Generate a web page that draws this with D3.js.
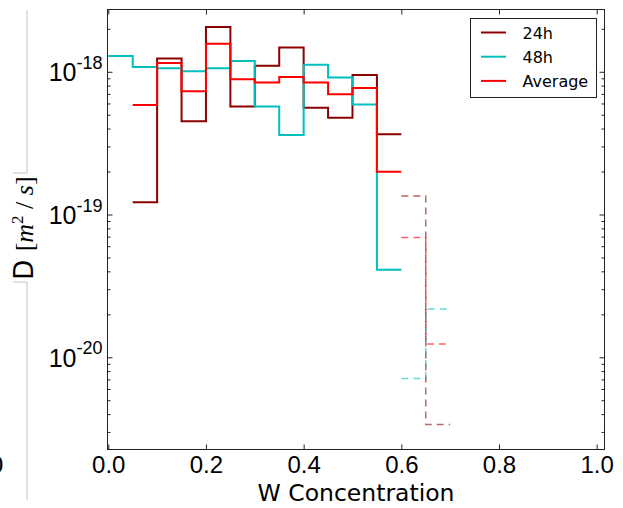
<!DOCTYPE html>
<html>
<head>
<meta charset="utf-8">
<script src="https://cdn.jsdelivr.net/npm/d3@7"></script>
<style>
  body { margin: 0; background: #fff; }
  svg { display: block; font-family: "DejaVu Sans", sans-serif; }
  .axis path.domain { display: none; }
  .axis line { stroke: #222; stroke-width: 1; }
</style>
</head>
<body>
<div id="chart"></div>
<script>
// bin left edges (bin width 0.05)
var binStart = [0.00, 0.05, 0.10, 0.15, 0.20, 0.25, 0.30, 0.35, 0.40, 0.45, 0.50, 0.55];
var binWidth = 0.05;

// solid steps, D in m^2/s (null = no bin)
var d24h = [null, 1.22e-19, 1.24e-18, 4.5e-19, 2.06e-18, 5.7e-19, 1.10e-18, 1.48e-18, 5.6e-19, 4.77e-19, 9.5e-19, 3.65e-19];
var d48h = [1.29e-18, 1.08e-18, 1.06e-18, 1.01e-18, 1.06e-18, 1.19e-18, 5.7e-19, 3.6e-19, 1.12e-18, 9.1e-19, 5.9e-19, 4.1e-20];
var dAvg = [null, 5.85e-19, 1.15e-18, 7.3e-19, 1.57e-18, 8.85e-19, 8.4e-19, 9.2e-19, 8.4e-19, 6.95e-19, 7.7e-19, 1.99e-19];

// dashed steps past 0.6
var dashStart = [0.60, 0.65];
var dash24h = [1.35e-19, 3.38e-21];
var dash48h = [7.1e-21, 2.18e-20];
var dashAvg = [6.9e-20, 1.24e-20];

var seriesNames = ["24h", "48h", "Average"];
var seriesColors = ["#8b0000", "#00bfbf", "#ff0000"];

var xTicks = [0.0, 0.2, 0.4, 0.6, 0.8, 1.0];
var yTicks = [1e-20, 1e-19, 1e-18];
var yTickExp = ["-20", "-19", "-18"];

// frame edges
var frameL = 107.5, frameR = 604.5, frameT = 9.5, frameB = 449.5;

var svg = d3.select("#chart").append("svg")
  .attr("width", 623)
  .attr("height", 508);

var x = d3.scaleLinear()
  .domain([-0.0016, 1.016])
  .range([frameL, frameR]);

var y = d3.scaleLog()
  .domain([2.26e-21, 2.73e-18])
  .range([frameB, frameT]);

// odd grey bracket + clipped "0" on the far left
svg.append("path")
  .attr("d", "M27,10 V173 H13 M13,282 H27 V500")
  .attr("fill", "none")
  .attr("stroke", "#c4c4c4")
  .attr("stroke-width", 1);
svg.append("text")
  .attr("x", 4)
  .attr("y", 473)
  .attr("text-anchor", "end")
  .style("font-size", "23px")
  .text("0");

// step lines
function stepData(starts, vals) {
  var pts = [];
  starts.forEach(function(s, i) {
    if (vals[i] !== null) pts.push([s, vals[i]]);
  });
  var last = pts[pts.length - 1];
  pts.push([last[0] + binWidth, last[1]]);
  return pts;
}

var line = d3.line()
  .x(function(d) { return x(d[0]); })
  .y(function(d) { return y(d[1]); })
  .curve(d3.curveStepAfter);

var solid = [d24h, d48h, dAvg];
var dashed = [dash24h, dash48h, dashAvg];

solid.forEach(function(vals, i) {
  svg.append("path")
    .attr("d", line(stepData(binStart, vals)))
    .attr("fill", "none")
    .attr("stroke", seriesColors[i])
    .attr("stroke-width", 2);
});

dashed.forEach(function(vals, i) {
  svg.append("path")
    .attr("d", line(stepData(dashStart, vals)))
    .attr("fill", "none")
    .attr("stroke", seriesColors[i])
    .attr("stroke-width", 1.5)
    .attr("stroke-opacity", 0.6)
    .attr("stroke-dasharray", "7,5");
});

// minor log ticks
var yMinor = [];
[-21, -20, -19, -18].forEach(function(e) {
  for (var m = 2; m <= 9; m++) {
    var v = m * Math.pow(10, e);
    if (v > y.domain()[0] && v < y.domain()[1]) yMinor.push(v);
  }
});

// axes, ticks pointing inward
svg.append("g").attr("class", "axis")
  .attr("transform", "translate(0," + frameB + ")")
  .call(d3.axisBottom(x).tickValues(xTicks).tickSizeInner(-5).tickSizeOuter(0)
    .tickPadding(6).tickFormat(d3.format(".1f")))
  .selectAll("text")
  .style("font-size", "24px")
  .attr("fill", "#000");

svg.append("g").attr("class", "axis")
  .attr("transform", "translate(0," + frameT + ")")
  .call(d3.axisTop(x).tickValues(xTicks).tickSizeInner(-5).tickSizeOuter(0).tickFormat(""));

svg.append("g").attr("class", "axis")
  .attr("transform", "translate(" + frameL + ",0)")
  .call(d3.axisLeft(y).tickValues(yMinor).tickSizeInner(-3).tickSizeOuter(0).tickFormat(""));

svg.append("g").attr("class", "axis")
  .attr("transform", "translate(" + frameR + ",0)")
  .call(d3.axisRight(y).tickValues(yMinor).tickSizeInner(-3).tickSizeOuter(0).tickFormat(""));

svg.append("g").attr("class", "axis")
  .attr("transform", "translate(" + frameR + ",0)")
  .call(d3.axisRight(y).tickValues(yTicks).tickSizeInner(-5).tickSizeOuter(0).tickFormat(""));

var yAxis = svg.append("g").attr("class", "axis")
  .attr("transform", "translate(" + frameL + ",0)")
  .call(d3.axisLeft(y).tickValues(yTicks).tickSizeInner(-5).tickSizeOuter(0).tickFormat(""));

// 10^n labels with superscripts
yAxis.selectAll(".tick").each(function(d, i) {
  var t = d3.select(this).append("text")
    .attr("x", -5)
    .attr("y", 9)
    .attr("text-anchor", "end")
    .attr("fill", "#000")
    .style("font-size", "25px");
  t.append("tspan").text("10");
  t.append("tspan")
    .attr("dy", -12.5)
    .style("font-size", "18px")
    .text(yTickExp[i]);
});

// frame
svg.append("rect")
  .attr("x", frameL)
  .attr("y", frameT)
  .attr("width", frameR - frameL)
  .attr("height", frameB - frameT)
  .attr("fill", "none")
  .attr("stroke", "#222")
  .attr("stroke-width", 1);

// axis labels
svg.append("text")
  .attr("x", (frameL + frameR) / 2)
  .attr("y", 500.5)
  .attr("text-anchor", "middle")
  .style("font-size", "23.5px")
  .text("W Concentration");

var serif = "'Liberation Serif', serif";
var yl = svg.append("text")
  .attr("transform", "translate(33,228) rotate(-90)")
  .attr("text-anchor", "middle")
  .style("font-size", "26px");
yl.append("tspan").text("D ");
yl.append("tspan").style("font-family", serif).text("[");
yl.append("tspan").style("font-family", serif).style("font-style", "italic").text("m");
yl.append("tspan").attr("dy", -10).style("font-family", serif).style("font-size", "17px").text("2");
yl.append("tspan").attr("dy", 10).style("font-family", serif).text(" / ");
yl.append("tspan").style("font-family", serif).style("font-style", "italic").text("s");
yl.append("tspan").style("font-family", serif).text("]");

// legend
var legend = svg.append("g");
legend.append("rect")
  .attr("x", 470.5)
  .attr("y", 18.5)
  .attr("width", 126)
  .attr("height", 79)
  .attr("fill", "#fff")
  .attr("stroke", "#222")
  .attr("stroke-width", 1);

var item = legend.selectAll(".item")
  .data(seriesNames)
  .enter().append("g")
  .attr("transform", function(d, i) { return "translate(0," + (32.5 + i * 24.2) + ")"; });

item.append("line")
  .attr("x1", 481)
  .attr("x2", 506)
  .attr("stroke", function(d, i) { return seriesColors[i]; })
  .attr("stroke-width", 2);

item.append("text")
  .attr("x", 522.5)
  .attr("y", 6)
  .style("font-size", "16px")
  .text(function(d) { return d; });
</script>
</body>
</html>
